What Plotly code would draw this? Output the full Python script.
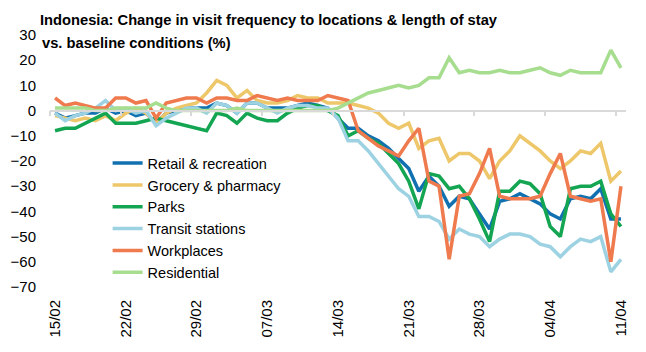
import plotly.graph_objects as go
import pandas as pd

# ---- data ----
dates = pd.date_range("2020-02-15", "2020-04-11", freq="D")
categories = [d.strftime("%d/%m") for d in dates]
tick_labels = ["15/02", "22/02", "29/02", "07/03", "14/03", "21/03", "28/03", "04/04", "11/04"]

retail = [-1, -3, -2, -1, -1, 1, -1, 0, -2, -1, -5, -1, 0, 1, 1, 1, 3, 2, -1, 3,
          3, 1, 1, 1, 2, 3, 2, 1, -3, -7, -7, -10, -12, -15, -19, -23, -32, -26, -30, -38,
          -34, -35, -41, -47, -36, -35, -33, -35, -37, -41, -43, -35, -34, -35, -31, -43, -43]
grocery = [-2, -3, -4, -3, -4, -2, -4, -1, 1, -1, -5, -1, 1, 2, 3, 7, 12, 10, 5, 8,
           4, 3, 3, 4, 6, 5, 5, 3, 3, 3, 2, 1, -1, -5, -7, -5, -15, -12, -11, -20,
           -17, -17, -20, -27, -20, -16, -10, -13, -16, -20, -23, -20, -16, -17, -13, -28, -24]
parks = [-8, -7, -7, -5, -3, -1, -5, -5, -5, -4, -3, -4, -5, -6, -7, -8, -1, -2, -5, -1,
         -3, -4, -4, -1, 1, 2, 2, 0, -2, -10, -8, -11, -13, -17, -21, -28, -39, -25, -26, -31,
         -30, -35, -43, -52, -32, -32, -28, -29, -33, -46, -50, -31, -30, -30, -28, -41, -46]
transit = [-1, -4, -2, -1, 1, 4, 0, 1, -1, 0, -6, -3, -1, 1, 1, -1, 3, 2, -1, 3,
           3, 1, -1, 1, 2, 2, 1, 1, -3, -12, -12, -16, -21, -26, -31, -34, -42, -42, -44, -51,
           -47, -49, -50, -54, -51, -49, -49, -50, -53, -54, -58, -54, -51, -52, -50, -64, -59]
workplaces = [5, 2, 3, 2, 1, 1, 5, 5, 3, 4, -3, 3, 4, 5, 5, 3, 5, 5, 4, 4,
              6, 5, 4, 5, 4, 4, 4, 6, 5, 4, -8, -11, -14, -16, -18, -12, -7, -28, -30, -59,
              -34, -33, -25, -15, -34, -35, -35, -35, -34, -25, -17, -34, -35, -36, -35, -60, -30]
residential = [1, 1, 1, 1, 0, 0, 1, 1, 1, 1, 3, 1, 0, 0, 0, 0, 0, 0, 1, 0,
               0, 0, 0, 0, 0, 0, 0, 0, 1, 3, 5, 7, 8, 9, 10, 9, 10, 13, 13, 21,
               15, 16, 15, 15, 16, 15, 15, 16, 17, 15, 14, 16, 15, 15, 15, 24, 17]

title_lines = ["Indonesia: Change in visit frequency to locations & length of stay",
               "vs. baseline conditions (%)"]

series = [
    ("Retail & recreation", retail, "#1170B0"),
    ("Grocery & pharmacy", grocery, "#EDC76A"),
    ("Parks", parks, "#13A552"),
    ("Transit stations", transit, "#9DD2E2"),
    ("Workplaces", workplaces, "#EF7A4E"),
    ("Residential", residential, "#A6DD8E"),
]

fig = go.Figure()
n = len(categories)
# helper axis for the zero line with Excel-style tick marks between categories
fig.add_trace(go.Scatter(x=list(range(n)), y=[None] * n, xaxis="x2", yaxis="y",
                         showlegend=False, hoverinfo="skip", mode="lines"))
for name, vals, col in series:
    fig.add_trace(go.Scatter(x=categories, y=vals, name=name, mode="lines",
                             line=dict(color=col, width=3.5)))

font_main = "Liberation Sans, Arial, sans-serif"
title_font = dict(family=font_main, size=14.7, color="#000000")
fig.update_layout(
    width=646, height=352,
    margin=dict(l=50, r=20, t=35, b=65),
    paper_bgcolor="white", plot_bgcolor="white",
    font=dict(family=font_main, size=15, color="#000000"),
    title=dict(
        text="<b>" + title_lines[0] + "</b>",
        x=40 / 646, xref="container", xanchor="left",
        y=1 - 20 / 352, yref="container", yanchor="middle",
        font=title_font,
    ),
    xaxis=dict(type="category", range=[-0.5, n - 0.5], tickvals=tick_labels, ticktext=tick_labels,
               tickangle=-90, showgrid=False, zeroline=False, showline=False,
               ticks="outside", ticklen=6, tickcolor="rgba(0,0,0,0)",
               tickfont=dict(size=15)),
    xaxis2=dict(overlaying="x", anchor="free", position=0.7, range=[-0.5, n - 0.5],
                tickvals=[i - 0.5 for i in range(0, n, 7)],
                showticklabels=False, showgrid=False, zeroline=False,
                showline=True, linecolor="#D9D9D9", linewidth=1.5,
                ticks="outside", ticklen=5, tickcolor="#D9D9D9", tickwidth=1.5),
    yaxis=dict(range=[-70, 30], dtick=10, showgrid=False, zeroline=False, showline=False,
               ticks="outside", ticklen=10, tickcolor="rgba(0,0,0,0)",
               tickfont=dict(size=15)),
    legend=dict(x=0.1, y=0.555, xanchor="left", yanchor="top",
                bgcolor="rgba(0,0,0,0)", font=dict(size=14.5), tracegroupgap=0,
                itemwidth=30),
)
fig.add_annotation(text="<b>" + title_lines[1] + "</b>", xref="paper", yref="paper",
                   x=-10 / 576, y=(287 - 43) / 252, xanchor="left", yanchor="middle",
                   showarrow=False, font=title_font)
fig.write_html("out.html")
